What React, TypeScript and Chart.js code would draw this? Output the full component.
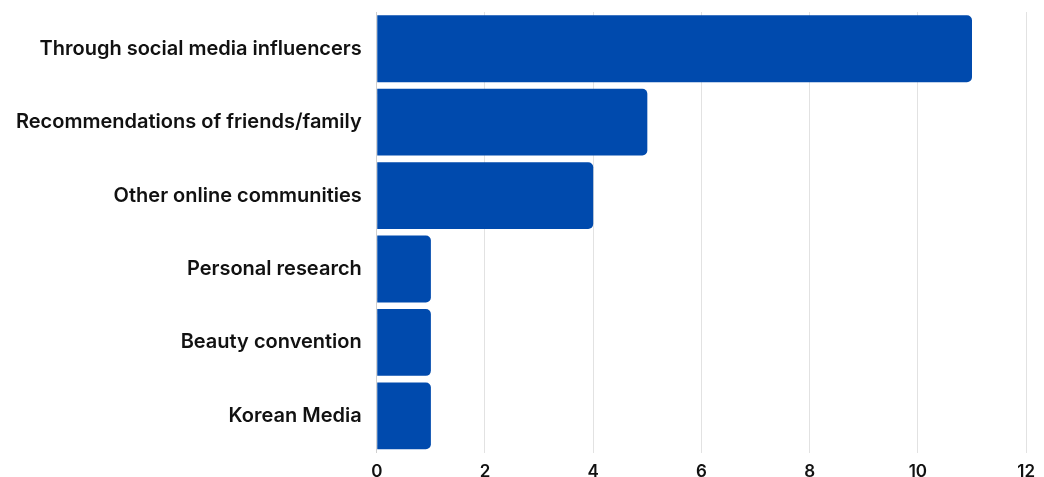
import React, { useEffect, useRef } from "react";
import { Chart, registerables } from "chart.js";

Chart.register(...registerables);

const categories = [
  "Through social media influencers",
  "Recommendations of friends/family",
  "Other online communities",
  "Personal research",
  "Beauty convention",
  "Korean Media",
];
const values = [11, 5, 4, 1, 1, 1];
const xTicks = [0, 2, 4, 6, 8, 10, 12];

export default function App() {
  const ref = useRef<HTMLCanvasElement | null>(null);
  useEffect(() => {
    if (!ref.current) return;
    const chart = new Chart(ref.current, {
      type: "bar",
      data: {
        labels: categories,
        datasets: [
          {
            data: values,
            backgroundColor: "#004aad",
            borderRadius: 5,
            borderSkipped: "start",
            barPercentage: 0.91,
            categoryPercentage: 1,
          },
        ],
      },
      options: {
        indexAxis: "y",
        animation: false,
        responsive: false,
        maintainAspectRatio: false,
        layout: { padding: { top: 12, right: 14, left: 16, bottom: -14 } },
        plugins: { legend: { display: false }, tooltip: { enabled: false } },
        scales: {
          x: {
            min: 0,
            max: 12,
            afterBuildTicks: (axis: any) => {
              axis.ticks = xTicks.map((v) => ({ value: v }));
            },
            grid: { color: "#e2e2e2", lineWidth: 1, drawTicks: false },
            border: { display: false },
            ticks: {
              padding: 9,
              color: "#111",
              font: { family: "Inter", size: 17, weight: "600" },
            },
          },
          y: {
            grid: {
              display: true,
              color: "rgba(0,0,0,0)",
              drawTicks: true,
              tickLength: 15,
              tickColor: "rgba(0,0,0,0)",
            },
            border: { display: true, color: "#d0d0d0", width: 1 },
            ticks: {
              padding: 0,
              color: "#111",
              font: { family: "Inter", size: 20, weight: "600" },
            },
          },
        },
      },
    });
    return () => chart.destroy();
  }, []);
  return (
    <div style={{ position: "fixed", left: 0, top: 0, width: 1044, height: 477, background: "#fff" }}>
      <canvas ref={ref} width={1044} height={477} style={{ width: 1044, height: 477 }} />
    </div>
  );
}
